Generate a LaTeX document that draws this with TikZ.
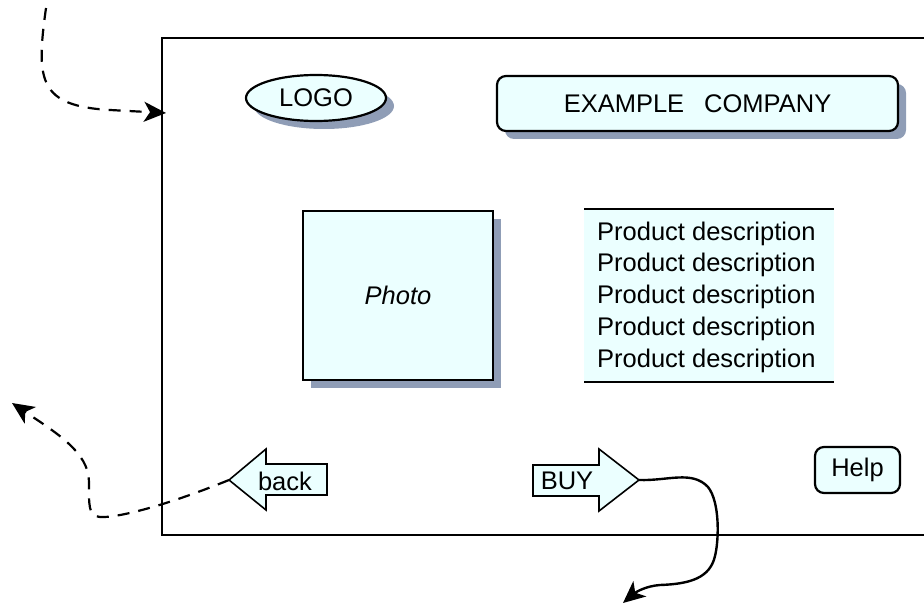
\documentclass[tikz,border=0pt]{standalone}
\usepackage{fontspec}
\setmainfont{Liberation Sans}
\usetikzlibrary{shapes.geometric,shadows,arrows.meta}

\definecolor{boxfill}{HTML}{EBFFFF}
\definecolor{shadowc}{HTML}{8F9DB6}

\tikzset{
  txt/.style={font=\fontsize{25.5}{31.75}\selectfont},
  shad/.style={drop shadow={shadow xshift=8pt,shadow yshift=-8pt,fill=shadowc,opacity=1}},
  boxed/.style={txt,draw=black,line width=2.2pt,fill=boxfill,inner sep=0pt},
  navarrow/.style={draw=black,line width=1.6pt,fill=boxfill,line join=miter},
  flowdash/.style={line width=2.2pt,dash pattern=on 12pt off 9pt,
                   -{Stealth[length=22pt,width=20pt,inset=6pt]}},
  flowsolid/.style={line width=2.4pt,-{Stealth[length=22pt,width=20pt,inset=6pt]}}
}

\begin{document}
\begin{tikzpicture}[x=1pt,y=-1pt]
\useasboundingbox (0,0) rectangle (924,607);

% page frame (runs off to the right)
\draw[line width=2.8pt] (924,38) -- (162,38) -- (162,535) -- (924,535);
\coordinate (framein) at (166,113);

% header
\node[boxed,shad,ellipse,minimum width=140pt,minimum height=46pt] (logo) at (316,98) {LOGO};
\node[boxed,shad,rectangle,rounded corners=9pt,minimum width=401pt,minimum height=55pt]
  (company) at (697.5,103.5) {EXAMPLE\hspace{20pt}COMPANY};

% content
\node[boxed,shad,rectangle,minimum width=190pt,minimum height=169pt]
  (photo) at (398,295.5) {\itshape Photo};

\fill[boxfill] (584,209) rectangle (834,382);
\draw[line width=2.2pt] (584,209) -- (834,209);
\draw[line width=2.2pt] (584,382) -- (834,382);
\node[txt,align=left,anchor=west,inner sep=0pt] (desc) at (597,297)
  {Product description\\Product description\\Product description\\Product description\\Product description};

% navigation
\draw[navarrow] (229,480) -- (266,449) -- (266,464) -- (327,464) -- (327,495)
  -- (266,495) -- (266,510) -- cycle;
\coordinate (backtip) at (229,480);
\node[txt,inner sep=0pt] (back) at (285,481) {back};

\draw[navarrow] (533,465) -- (599,465) -- (599,449) -- (639,480) -- (599,511)
  -- (599,496) -- (533,496) -- cycle;
\coordinate (buytip) at (639,480);
\node[txt,inner sep=0pt] (buy) at (567,481) {BUY};

\node[boxed,rectangle,rounded corners=9pt,minimum width=85pt,minimum height=46pt]
  (help) at (857.5,470) {Help};

% flow connectors
\coordinate (incoming) at (46,8);
\coordinate (previous) at (12,403);
\coordinate (checkout) at (623,603);

\draw[flowdash] (incoming) .. controls (36,80) and (38,106) .. (110,110) -- (framein);
\draw[flowdash] (backtip) .. controls (160,508) and (115,518) .. (100,517)
  .. controls (88,516) and (89,505) .. (89,482)
  .. controls (89,452) and (55,432) .. (previous);
\draw[flowsolid] (buytip) .. controls (668,481) and (692,470) .. (708,487)
  .. controls (720,502) and (719,540) .. (715,556)
  .. controls (710,578) and (690,584) .. (660,585)
  .. controls (646,586) and (636,592) .. (checkout);
\end{tikzpicture}
\end{document}
